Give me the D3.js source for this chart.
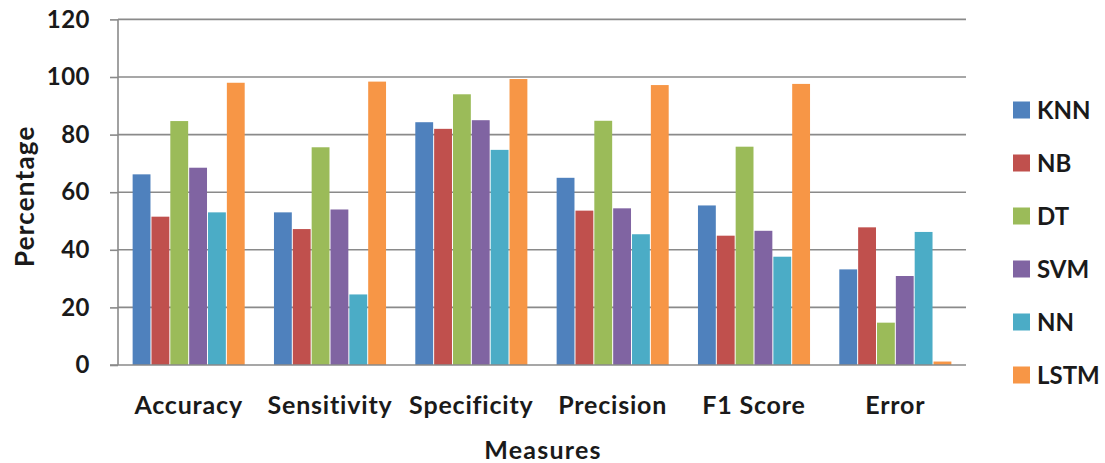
<!DOCTYPE html>
<html>
<head>
<meta charset="utf-8">
<script src="https://cdn.jsdelivr.net/npm/d3@7/dist/d3.min.js"></script>
<style>
  html, body { margin: 0; padding: 0; background: #fff; }
  svg { display: block; }
  text { font-family: Lato, "Open Sans", sans-serif; font-weight: bold; fill: #1a1a1a; }
</style>
</head>
<body>
<svg id="chart" width="1105" height="463"></svg>
<script>
// Performance measures (percent) for each classifier
const measures = ["Accuracy", "Sensitivity", "Specificity", "Precision", "F1 Score", "Error"];
const models = ["KNN", "NB", "DT", "SVM", "NN", "LSTM"];
const KNN  = [66.2, 53.0, 84.3, 65.0, 55.4, 33.2];
const NB   = [51.5, 47.2, 82.0, 53.6, 44.9, 47.8];
const DT   = [84.7, 75.6, 94.0, 84.8, 75.8, 14.7];
const SVM  = [68.5, 54.0, 85.0, 54.4, 46.6, 30.9];
const NN   = [53.0, 24.5, 74.7, 45.4, 37.6, 46.2];
const LSTM = [98.0, 98.4, 99.3, 97.2, 97.6, 1.2];
const yTicks = [0, 20, 40, 60, 80, 100, 120];

const seriesValues = { KNN, NB, DT, SVM, NN, LSTM };
const colors = ["#4F81BD", "#C0504D", "#9BBB59", "#8064A2", "#4BACC6", "#F79646"];

const svg = d3.select("#chart");
const plotLeft = 118, plotRight = 966, plotTop = 19.4, plotBottom = 365;
const textColor = "#161616";

const x0 = d3.scaleBand().domain(measures).range([plotLeft, plotRight]).paddingInner(0.2).paddingOuter(0.1);
const x1 = d3.scaleBand().domain(models).range([0, x0.bandwidth()]);
const y = d3.scaleLinear().domain([0, 120]).range([plotBottom, plotTop]);
const color = d3.scaleOrdinal().domain(models).range(colors);

// horizontal gridlines
svg.append("g")
  .selectAll("line")
  .data(yTicks.filter(t => t > 0))
  .join("line")
  .attr("x1", plotLeft).attr("x2", plotRight)
  .attr("y1", d => y(d)).attr("y2", d => y(d))
  .attr("stroke", "#8a8a8a").attr("stroke-width", 1.6);

// bars
const groups = svg.append("g")
  .selectAll("g")
  .data(measures)
  .join("g")
  .attr("transform", d => `translate(${x0(d)},0)`);

groups.selectAll("rect")
  .data((m, i) => models.map(k => ({ model: k, value: seriesValues[k][i] })))
  .join("rect")
  .attr("x", d => x1(d.model) + 0.5)
  .attr("width", x1.bandwidth() - 1)
  .attr("y", d => y(d.value))
  .attr("height", d => y(0) - y(d.value))
  .attr("fill", d => color(d.model));

// y axis
const yAxis = d3.axisLeft(y).tickValues(yTicks).tickSize(8).tickPadding(20);
const ya = svg.append("g").attr("transform", `translate(${plotLeft},0)`).call(yAxis);
ya.select(".domain").attr("stroke", "#8a8a8a").attr("stroke-width", 1.6).attr("d", `M0,${y(120)}V${y(0)}`);
ya.selectAll(".tick line").attr("stroke", "#8a8a8a").attr("stroke-width", 1.6);
ya.selectAll(".tick text")
  .attr("font-size", 24).attr("font-family", "Lato, sans-serif").attr("font-weight", 900)
  .attr("fill", textColor).attr("letter-spacing", 0.5);

// x axis
const xAxis = d3.axisBottom(x0).tickSize(0);
const xa = svg.append("g").attr("transform", `translate(0,${plotBottom})`).call(xAxis);
xa.select(".domain").attr("stroke", "#8a8a8a").attr("stroke-width", 1.6).attr("d", `M${plotLeft - 8},0H${plotRight}`);
xa.selectAll(".tick text")
  .attr("font-size", 25).attr("font-family", "Lato, sans-serif").attr("font-weight", 900)
  .attr("fill", textColor).attr("letter-spacing", 0.8)
  .attr("dy", "0.35em").attr("y", 40);

// axis titles
svg.append("text")
  .attr("x", (plotLeft + plotRight) / 2 + 1).attr("y", 450).attr("dy", "0.35em")
  .attr("text-anchor", "middle").attr("font-size", 25).attr("font-weight", 900)
  .attr("letter-spacing", 1.2).attr("fill", textColor)
  .text("Measures");

svg.append("text")
  .attr("transform", `translate(25,${(plotTop + plotBottom) / 2 + 4}) rotate(-90)`)
  .attr("dy", "0.35em")
  .attr("text-anchor", "middle").attr("font-size", 26).attr("font-weight", 900)
  .attr("letter-spacing", 1.2).attr("fill", textColor)
  .text("Percentage");

// legend
const legend = svg.append("g")
  .selectAll("g")
  .data(models)
  .join("g")
  .attr("transform", (d, i) => `translate(1013,${110 + i * 53})`);
legend.append("rect")
  .attr("x", 0).attr("y", -8.5).attr("width", 17).attr("height", 17)
  .attr("fill", d => color(d));
legend.append("text")
  .attr("x", 24).attr("y", 0).attr("dy", "0.36em")
  .attr("font-size", 24).attr("font-weight", 900).attr("fill", textColor)
  .text(d => d);
</script>
</body>
</html>
